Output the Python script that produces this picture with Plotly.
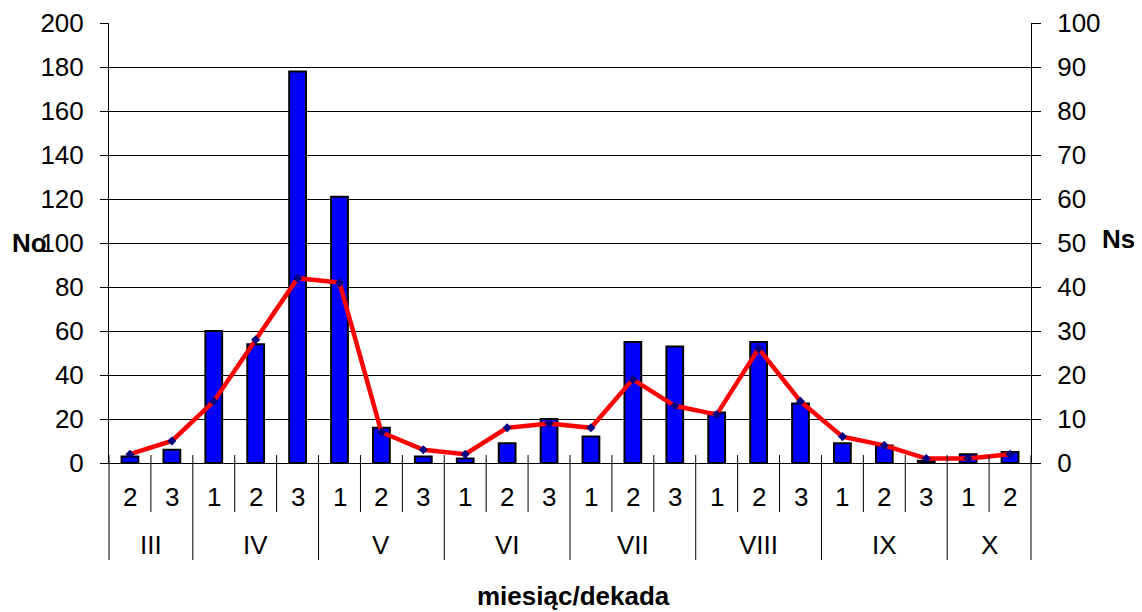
import plotly.graph_objects as go

months = ["III", "III", "IV", "IV", "IV", "V", "V", "V", "VI", "VI", "VI",
          "VII", "VII", "VII", "VIII", "VIII", "VIII", "IX", "IX", "IX", "X", "X"]
dekads = ["2", "3", "1", "2", "3", "1", "2", "3", "1", "2", "3",
          "1", "2", "3", "1", "2", "3", "1", "2", "3", "1", "2"]
no_values = [3, 6, 60, 54, 178, 121, 16, 3, 2, 9, 20,
             12, 55, 53, 23, 55, 27, 9, 8, 1, 4, 5]
ns_values = [2, 5, 14, 28, 42, 41, 7, 3, 2, 8, 9,
             8, 19, 13, 11, 26, 14, 6, 4, 1, 1, 2]
left_ticks = list(range(0, 201, 20))
right_ticks = list(range(0, 101, 10))

FONT = "Liberation Sans, Arial, sans-serif"
FS = 26
n = len(dekads)
xs = list(range(n))

fig = go.Figure()
fig.add_trace(go.Bar(
    x=xs, y=no_values, name="No", yaxis="y",
    marker=dict(color="#0000FF", line=dict(color="#000000", width=2)),
    width=0.4,
))
fig.add_trace(go.Scatter(
    x=xs, y=ns_values, name="Ns", yaxis="y2", mode="lines+markers",
    line=dict(color="#FF0000", width=4.5),
    marker=dict(symbol="diamond", color="#000080", size=7),
))

H_PLOT = 440.0
def py(px_below):
    return -px_below / H_PLOT

shapes = []
month_bounds = set()
for i in range(n + 1):
    if i == 0 or i == n or months[i] != months[i - 1]:
        month_bounds.add(i)
for i in range(n + 1):
    xp = i / n
    bottom = 97 if i in month_bounds else 49
    shapes.append(dict(type="line", xref="paper", yref="paper",
                       x0=xp, x1=xp, y0=8 / H_PLOT, y1=py(bottom),
                       line=dict(color="#000000", width=1)))

def txt(x, y, xref, text):
    return dict(x=x, y=y, xref=xref, yref="paper", text=text,
                showarrow=False, xanchor="center", yanchor="middle",
                font=dict(family=FONT, size=FS, color="#000000"))

annotations = []
for i, d in enumerate(dekads):
    annotations.append(txt(i, py(34), "x", d))
groups = []
start = 0
for i in range(1, n + 1):
    if i == n or months[i] != months[i - 1]:
        groups.append((months[start], (start + i - 1) / 2))
        start = i
for m, cx in groups:
    annotations.append(txt(cx, py(82), "x", m))
annotations.append(txt(0.504, py(133), "paper", "<b>miesiąc/dekada</b>"))
annotations.append(txt(-0.0857, 0.5, "paper", "<b>No</b>"))
annotations.append(txt(1.0954, 0.509, "paper", "<b>Ns</b>"))

# page body has an 8px margin, so the figure is offset by (8, 8)
fig.update_layout(
    width=1134, height=604,
    margin=dict(l=101, r=111, t=15, b=149, autoexpand=False),
    paper_bgcolor="#FFFFFF", plot_bgcolor="#FFFFFF",
    showlegend=False,
    font=dict(family=FONT, size=FS, color="#000000"),
    xaxis=dict(range=[-0.5, n - 0.5], showticklabels=False, showgrid=False,
               zeroline=False, showline=True, linecolor="#000000", linewidth=1,
               ticks="", automargin=False),
    yaxis=dict(range=[0, 200], tickvals=left_ticks, showgrid=True,
               gridcolor="#000000", gridwidth=1, zeroline=False,
               showline=True, linecolor="#000000", linewidth=1,
               ticks="outside", ticklen=8, tickcolor="#000000",
               ticklabelstandoff=11, automargin=False,
               tickfont=dict(family=FONT, size=FS, color="#000000")),
    yaxis2=dict(range=[0, 100], tickvals=right_ticks, overlaying="y",
                side="right", showgrid=False, zeroline=False,
                showline=True, linecolor="#000000", linewidth=1,
                ticks="outside", ticklen=9, tickcolor="#000000",
                ticklabelstandoff=11, automargin=False,
                tickfont=dict(family=FONT, size=FS, color="#000000")),
    shapes=shapes,
    annotations=annotations,
)

fig.write_html("out.html")
